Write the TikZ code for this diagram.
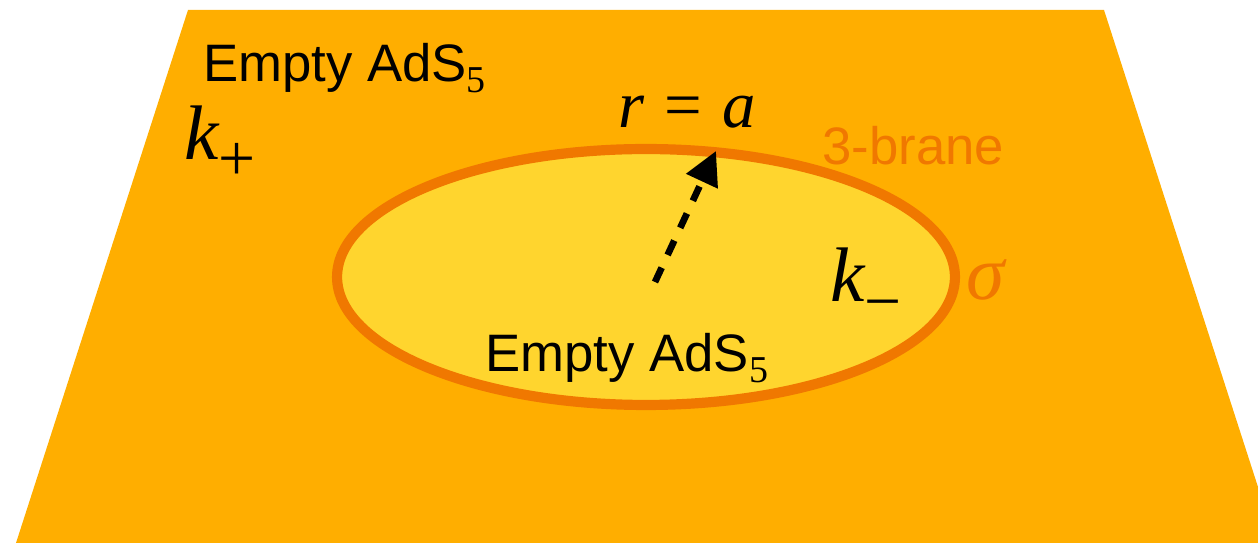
\documentclass[tikz,border=0pt]{standalone}
\usepackage{fontspec}
\setmainfont{Liberation Sans}
\newfontfamily\serifmath{Liberation Serif}
\usetikzlibrary{shapes.geometric,arrows.meta,positioning}

\definecolor{bulkorange}{RGB}{255,174,0}
\definecolor{innerfill}{RGB}{255,213,46}
\definecolor{branecol}{RGB}{240,120,0}

% lowered index: #1 = scale, #2 = drop, #3 = text
\newcommand{\lowidx}[3]{\raisebox{-#2}{\scalebox{#1}{\serifmath #3}}}
\newcommand{\var}[1]{{\serifmath\itshape #1}}

\begin{document}
\begin{tikzpicture}[x=0.02cm,y=-0.02cm,
    label/.style={inner sep=0pt,anchor=base west},
    sanslabel/.style={label,font=\fontsize{30}{36}\selectfont},
    mathlabel/.style={label,font=\fontsize{44}{50}\selectfont}]
    \useasboundingbox (0,0) rectangle (1258,543);

    % Outer bulk
    \fill[bulkorange] (188,10) -- (1104,10) -- (1258,487) -- (1258,543) -- (16,543) -- cycle;

    % Brane bubble
    \node[ellipse,draw=branecol,fill=innerfill,line width=5.8pt,inner sep=0pt,
          minimum width=12.36cm,minimum height=5.12cm] (brane) at (646,277) {};

    % Radius arrow
    \coordinate (centre) at (655,282);
    \coordinate (rim) at (716,151);
    \draw[line width=3.8pt,dash pattern=on 9pt off 8pt,
          -{Triangle[length=19pt,width=19pt]}] (centre) -- (rim);

    % Labels
    \node[sanslabel] (outtext) at (203,82) {Empty AdS\lowidx{0.72}{0.2em}{5}};
    \node[mathlabel] (kplus) at (184,160) {\var{k}\lowidx{0.85}{0.27em}{+}};
    \node[inner sep=0pt,anchor=base,font=\fontsize{38}{44}\selectfont] (radius) at (687,128)
        {\var{r}\hspace{0.3em}{\serifmath =}\hspace{0.3em}\var{a}};
    \node[sanslabel,text=branecol] (branetext) at (822,165) {3-brane};
    \node[mathlabel] (kminus) at (830,302) {\var{k}\lowidx{0.85}{0.28em}{\textminus}};
    \node[mathlabel,text=branecol] (tension) at (966,300) {\var{σ}};
    \node[sanslabel] (intext) at (485,372) {Empty AdS\lowidx{0.72}{0.2em}{5}};
\end{tikzpicture}
\end{document}
